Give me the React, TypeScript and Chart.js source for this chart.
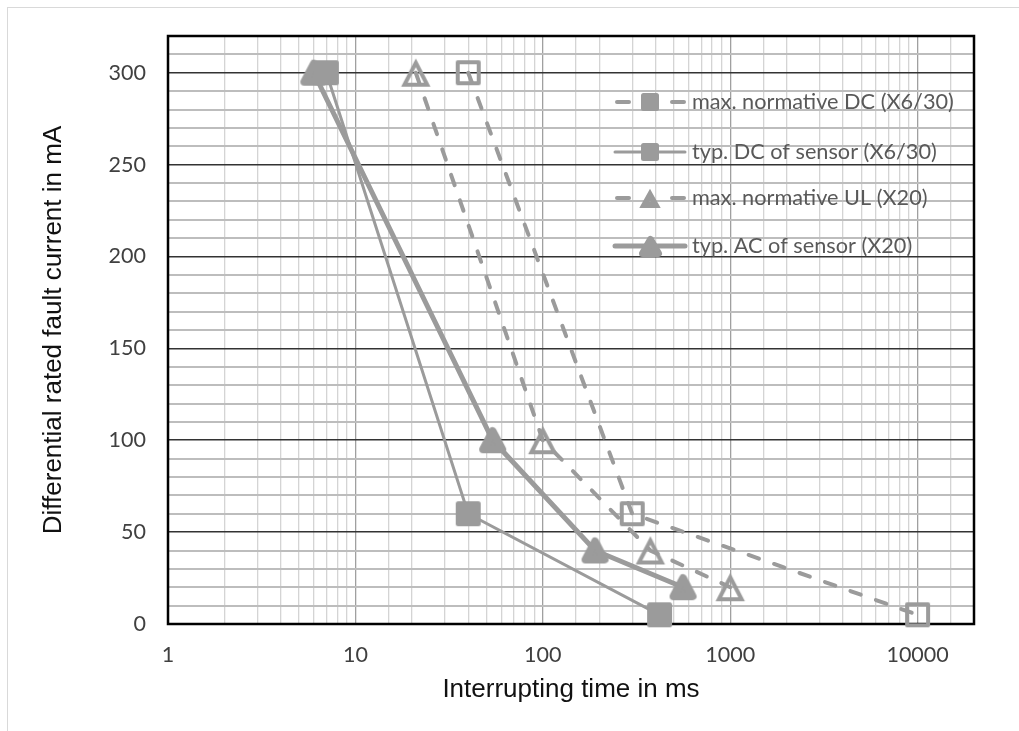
import React, { useEffect, useRef } from 'react';
import { Chart, registerables } from 'chart.js';

Chart.register(...registerables);

// ---- data ----
const seriesNames = [
  'max. normative DC (X6/30)',
  'typ. DC of sensor (X6/30)',
  'max. normative UL (X20)',
  'typ. AC of sensor (X20)',
];
const maxDcTime = [40, 300, 10000];
const maxDcCurrent = [300, 60, 5];
const typDcTime = [7, 40, 420];
const typDcCurrent = [300, 60, 5];
const maxUlTime = [21, 100, 375, 1000];
const maxUlCurrent = [300, 100, 40, 20];
const typAcTime = [6, 54, 190, 560];
const typAcCurrent = [300, 100, 40, 20];
const xTickLabels = ['1', '10', '100', '1000', '10000'];
const yTickLabels = ['0', '50', '100', '150', '200', '250', '300'];
const xTitle = 'Interrupting time in ms';
const yTitle = 'Differential rated fault current in mA';

const GRAY = '#9b9b9b';

type Kind = 'hollowSquare' | 'square' | 'hollowTriangle' | 'roundTriangle';

function makeMarker(kind: Kind, w: number, h: number, stroke: number): HTMLCanvasElement {
  const pad = 2;
  const c = document.createElement('canvas');
  c.width = Math.ceil(w + pad * 2);
  c.height = Math.ceil(h + pad * 2);
  const ctx = c.getContext('2d')!;
  ctx.fillStyle = GRAY;
  ctx.strokeStyle = GRAY;
  const o = pad;
  if (kind === 'square') {
    const r = 2.5;
    ctx.beginPath();
    ctx.roundRect(o, o, w, h, r);
    ctx.fill();
  } else if (kind === 'hollowSquare') {
    ctx.lineWidth = stroke;
    ctx.lineJoin = 'round';
    ctx.strokeRect(o + stroke / 2, o + stroke / 2, w - stroke, h - stroke);
  } else if (kind === 'hollowTriangle') {
    ctx.lineWidth = stroke;
    ctx.lineJoin = 'miter';
    const s = stroke;
    ctx.beginPath();
    ctx.moveTo(o + w / 2, o + s * 1.0);
    ctx.lineTo(o + w - s * 0.9, o + h - s / 2);
    ctx.lineTo(o + s * 0.9, o + h - s / 2);
    ctx.closePath();
    ctx.stroke();
  } else {
    ctx.lineWidth = stroke;
    ctx.lineJoin = 'round';
    const s = stroke / 2;
    ctx.beginPath();
    ctx.moveTo(o + w / 2, o + s);
    ctx.lineTo(o + w - s, o + h - s);
    ctx.lineTo(o + s, o + h - s);
    ctx.closePath();
    ctx.fill();
    ctx.stroke();
  }
  return c;
}

const isDecade = (v: number) => {
  const l = Math.log10(v);
  return Math.abs(l - Math.round(l)) < 1e-9;
};

export default function App() {
  const ref = useRef<HTMLCanvasElement>(null);

  useEffect(() => {
    const canvas = ref.current!;
    const plotMarkers = [
      makeMarker('hollowSquare', 25, 25, 4),
      makeMarker('square', 25, 25, 0),
      makeMarker('hollowTriangle', 30, 28, 4),
      makeMarker('roundTriangle', 27, 26, 8),
    ];
    const legendMarkers = [
      makeMarker('square', 18, 18, 0),
      makeMarker('square', 18, 18, 0),
      makeMarker('hollowTriangle', 22, 19, 6),
      makeMarker('roundTriangle', 23, 21, 7),
    ];
    const dashed = [true, false, true, false];
    const legendOffsets = [66, 116, 162, 210];

    const legendPlugin = {
      id: 'insideLegend',
      afterDatasetsDraw(chart: any) {
        const { ctx, chartArea } = chart;
        ctx.save();
        chart.data.datasets.forEach((ds: any, i: number) => {
          const y = chartArea.top + legendOffsets[i];
          const x0 = chartArea.right - 359;
          const x1 = x0 + 70;
          const xm = x0 + 35;
          ctx.strokeStyle = GRAY;
          ctx.lineWidth = ds.borderWidth;
          ctx.lineCap = 'round';
          ctx.setLineDash([]);
          ctx.beginPath();
          if (dashed[i]) {
            ctx.moveTo(x0 + 2, y);
            ctx.lineTo(x0 + 14, y);
            ctx.moveTo(x1 - 13, y);
            ctx.lineTo(x1 - 1, y);
          } else {
            ctx.moveTo(x0, y);
            ctx.lineTo(x1, y);
          }
          ctx.stroke();
          const img = legendMarkers[i];
          ctx.drawImage(img, Math.round(xm - img.width / 2), Math.round(y - img.height / 2));
          ctx.fillStyle = '#595959';
          ctx.font = '21.7px Lato';
          ctx.textBaseline = 'middle';
          ctx.textAlign = 'left';
          ctx.fillText(ds.label, x1 + 7, y);
        });
        ctx.restore();
      },
    };

    const framePlugin = {
      id: 'plotFrame',
      beforeDatasetsDraw(chart: any) {
        const { ctx, chartArea } = chart;
        ctx.save();
        ctx.strokeStyle = '#000';
        ctx.lineWidth = 2.5;
        ctx.strokeRect(chartArea.left, chartArea.top, chartArea.right - chartArea.left, chartArea.bottom - chartArea.top);
        ctx.restore();
      },
    };

    const mk = (times: number[], vals: number[]) => times.map((x, i) => ({ x, y: vals[i] }));

    const chart = new Chart(canvas, {
      type: 'scatter',
      data: {
        datasets: [
          {
            label: seriesNames[0],
            data: mk(maxDcTime, maxDcCurrent),
            showLine: true,
            borderColor: GRAY,
            backgroundColor: GRAY,
            borderWidth: 4,
            borderDash: [11, 16],
            borderCapStyle: 'round',
            pointStyle: plotMarkers[0],
            pointRadius: 13,
            clip: false,
          },
          {
            label: seriesNames[1],
            data: mk(typDcTime, typDcCurrent),
            showLine: true,
            borderColor: GRAY,
            backgroundColor: GRAY,
            borderWidth: 3,
            pointStyle: plotMarkers[1],
            pointRadius: 13,
            clip: false,
          },
          {
            label: seriesNames[2],
            data: mk(maxUlTime, maxUlCurrent),
            showLine: true,
            borderColor: GRAY,
            backgroundColor: GRAY,
            borderWidth: 4,
            borderDash: [11, 16],
            borderCapStyle: 'round',
            pointStyle: plotMarkers[2],
            pointRadius: 14,
            clip: false,
          },
          {
            label: seriesNames[3],
            data: mk(typAcTime, typAcCurrent),
            showLine: true,
            borderColor: GRAY,
            backgroundColor: GRAY,
            borderWidth: 5,
            pointStyle: plotMarkers[3],
            pointRadius: 13,
            clip: false,
          },
        ] as any,
      },
      plugins: [framePlugin, legendPlugin],
      options: {
        responsive: false,
        animation: false,
        layout: { padding: { top: 28, right: 45, left: 0, bottom: 0 } },
        plugins: {
          legend: { display: false },
          tooltip: { enabled: false },
        },
        scales: {
          x: {
            type: 'logarithmic',
            min: 1,
            max: 20000,
            afterFit: (s: any) => {
              s.height = 107;
              s.paddingLeft = 0;
              s.paddingRight = 0;
            },
            border: { display: false },
            grid: {
              drawTicks: false,
              color: (c: any) => (c.tick && isDecade(c.tick.value) ? '#a0a0a0' : '#d4d4d4'),
              lineWidth: 1.3,
            },
            ticks: {
              autoSkip: false,
              maxRotation: 0,
              padding: 18,
              color: '#404040',
              font: { family: 'Lato', size: 21.5 },
              callback: (v: any) => {
                const n = Number(v);
                if (!isDecade(n)) return '';
                const idx = Math.round(Math.log10(n));
                return xTickLabels[idx] ?? '';
              },
            },
            title: {
              display: true,
              text: xTitle,
              color: '#111',
              font: { family: 'Liberation Sans', size: 26 },
              padding: { top: 0, bottom: 26 },
            },
          },
          y: {
            type: 'linear',
            min: 0,
            max: 320,
            afterFit: (s: any) => {
              s.width = 160;
              s.paddingTop = 0;
              s.paddingBottom = 0;
            },
            border: { display: false },
            grid: {
              drawTicks: false,
              color: (c: any) => (c.tick && c.tick.value % 50 === 0 ? '#333333' : '#bdbdbd'),
              lineWidth: (c: any) => (c.tick && c.tick.value % 50 === 0 ? 1.6 : 2),
            },
            ticks: {
              stepSize: 10,
              autoSkip: false,
              padding: 22,
              color: '#404040',
              font: { family: 'Lato', size: 21.5 },
              callback: (v: any) => {
                const n = Number(v);
                if (n % 50 !== 0) return '';
                return yTickLabels[n / 50] ?? '';
              },
            },
            title: {
              display: true,
              text: yTitle,
              color: '#111',
              font: { family: 'Liberation Sans', size: 26 },
              padding: { top: 30, bottom: 0 },
            },
          },
        },
      } as any,
    });
    return () => chart.destroy();
  }, []);

  return (
    <div
      style={{
        position: 'fixed',
        left: 7,
        top: 7,
        width: 1100,
        height: 800,
        border: '1px solid #d9d9d9',
        background: '#fff',
      }}
    >
      <canvas ref={ref} width={1011} height={723} style={{ display: 'block' }} />
    </div>
  );
}
